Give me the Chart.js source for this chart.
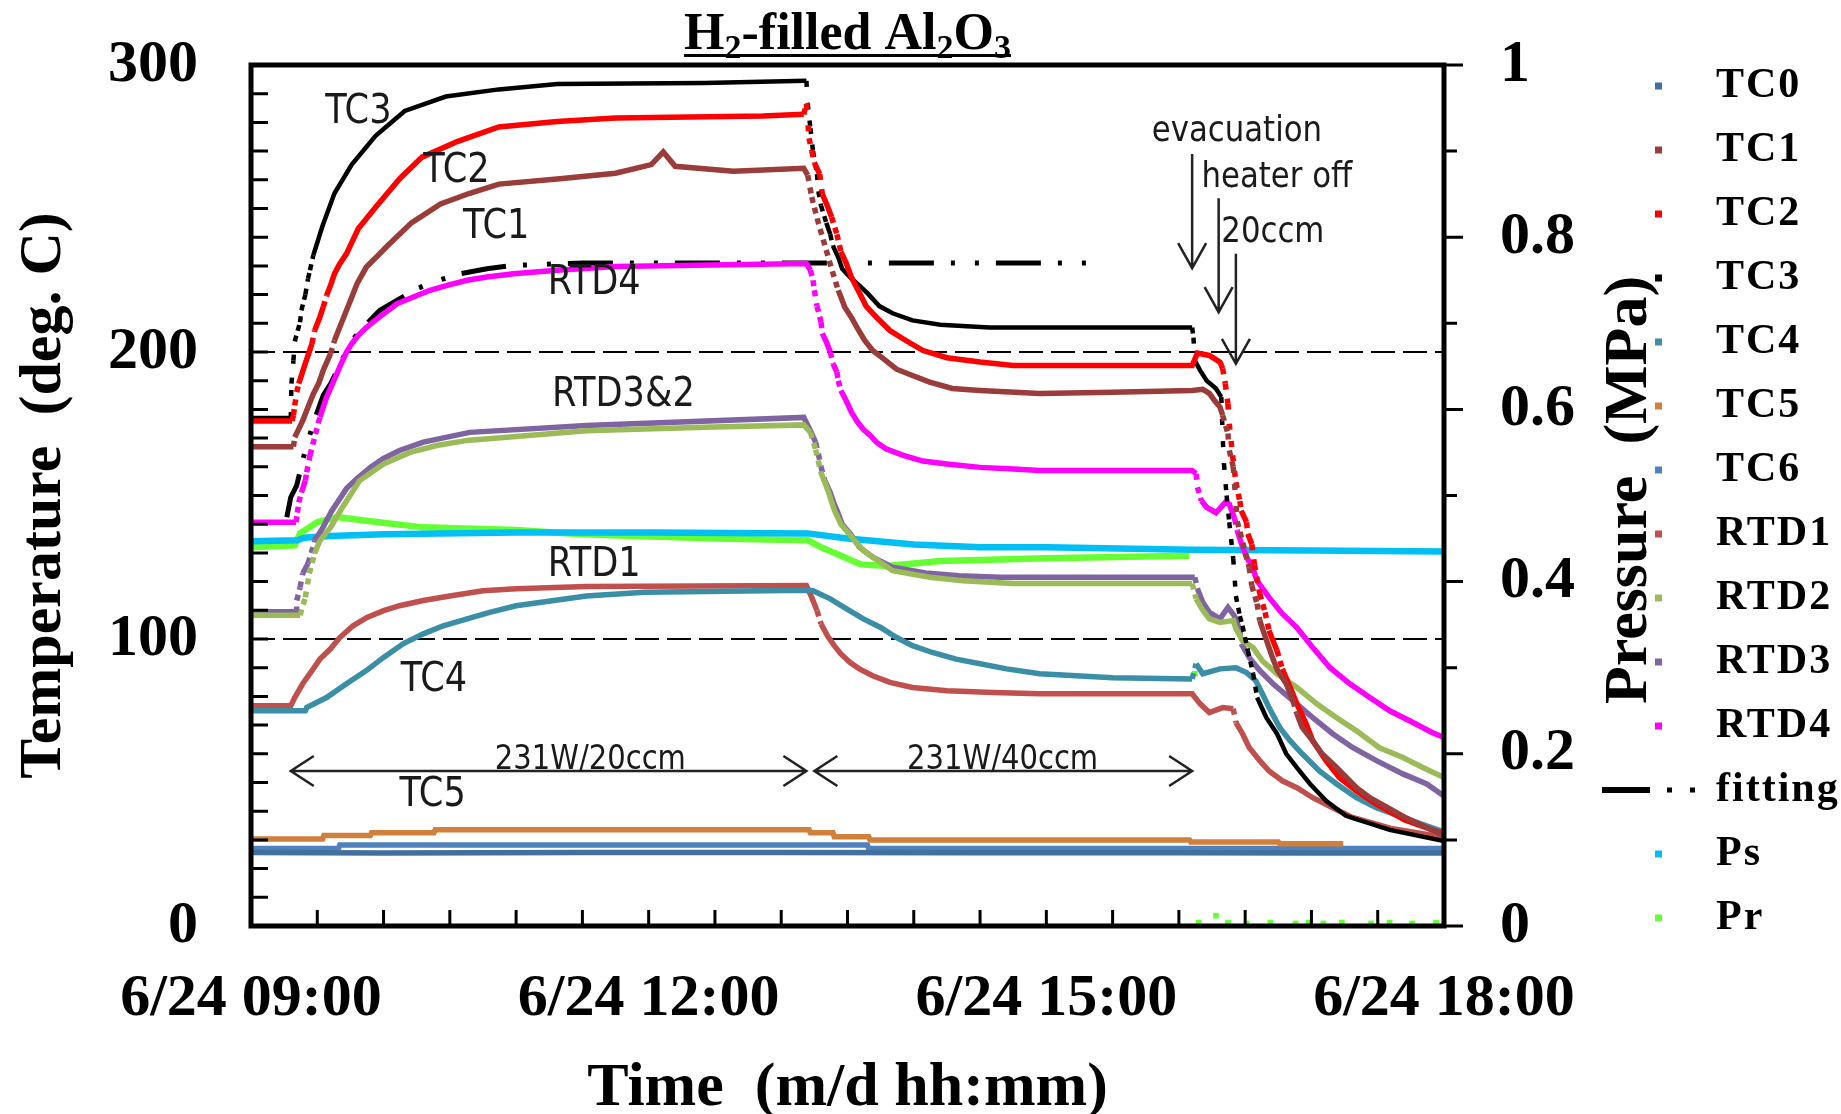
<!DOCTYPE html>
<html>
<head>
<meta charset="utf-8">
<title>H2-filled Al2O3</title>
<script src="https://cdn.jsdelivr.net/npm/chart.js@4.4.1/dist/chart.umd.min.js"></script>
<style>
  html, body { margin: 0; padding: 0; background: #fff; }
  #wrap { width: 1841px; height: 1114px; }
</style>
</head>
<body>
<div id="wrap"><canvas id="heatChart" width="1841" height="1114"></canvas></div>
<script>
// time in hours of 6/24, temperatures in deg C, pressures in MPa
const TC0 = [[9.0, 25.6], [10.0, 25.4], [11.5, 25.6], [13.0, 25.6], [14.5, 25.5], [16.0, 25.5], [17.0, 25.4], [18.0, 25.4]];
const TC1 = [[9.0, 167], [9.32, 167], [9.33, 170.3], [9.355, 172.7], [9.39, 176.1], [9.42, 179.6], [9.47, 185.4], [9.51, 189],
  [9.545, 193.6], [9.60, 199.4], [9.63, 204], [9.67, 208.7], [9.71, 213.3], [9.76, 219.1], [9.80, 223.8], [9.87, 229.6],
  [9.97, 234.2], [10.03, 237], [10.21, 245], [10.43, 251.6], [10.65, 255.3], [10.87, 258.5], [11.31, 260.3], [11.75, 262.3],
  [12.02, 265.3], [12.11, 269.7], [12.20, 264.7], [12.64, 263], [13.17, 264], [13.20, 261.6], [13.23, 254], [13.28, 245],
  [13.33, 237], [13.38, 229], [13.43, 221.5], [13.48, 215.6], [13.53, 212], [13.57, 208.7], [13.63, 204], [13.69, 200.5],
  [13.77, 197.7], [13.87, 194], [13.99, 191.8], [14.12, 189.5], [14.29, 187.3], [14.50, 186.6], [14.95, 185.5], [15.5, 186],
  [16.10, 186.6], [16.18, 187], [16.23, 185.6], [16.27, 183], [16.31, 180.8], [16.33, 178], [16.37, 171.6], [16.38, 165.7],
  [16.41, 160], [16.42, 154], [16.44, 141], [16.53, 125], [16.55, 118.6], [16.59, 112.3], [16.61, 106.4], [16.68, 97],
  [16.71, 93], [16.745, 89], [16.81, 84.4], [16.86, 78.5], [16.89, 74], [16.93, 69.2], [17.01, 64.5], [17.08, 60],
  [17.19, 55.2], [17.34, 48.2], [17.44, 44.7], [17.7, 38], [18.0, 31.5]];
const TC2 = [[9.0, 176], [9.31, 176], [9.32, 178], [9.33, 181.4], [9.345, 186], [9.36, 189], [9.41, 196], [9.46, 202.9],
  [9.48, 207.5], [9.52, 212.2], [9.545, 215.7], [9.57, 219.7], [9.60, 223.2], [9.63, 227.3], [9.67, 230.8], [9.72, 234.2],
  [9.81, 243], [9.94, 250.4], [10.12, 260.3], [10.29, 267.9], [10.56, 273.4], [10.87, 278.4], [11.31, 280.3], [11.75, 281.5],
  [12.86, 282.2], [13.17, 282.8], [13.19, 286.5], [13.21, 274.5], [13.23, 270], [13.25, 266], [13.29, 262], [13.31, 255],
  [13.34, 251.8], [13.38, 247], [13.42, 241], [13.45, 235], [13.49, 231], [13.53, 226], [13.58, 221.5], [13.64, 216],
  [13.72, 212], [13.82, 207.5], [13.94, 204], [14.07, 200.5], [14.25, 198], [14.50, 196.5], [14.75, 195.3], [16.10, 195.3],
  [16.14, 199.6], [16.23, 198.8], [16.31, 196.5], [16.33, 194.3], [16.35, 189], [16.37, 182], [16.38, 175], [16.405, 164],
  [16.43, 154.6], [16.46, 148], [16.47, 144.7], [16.51, 140.7], [16.52, 136.7], [16.55, 133], [16.57, 126], [16.61, 115.8],
  [16.65, 109.3], [16.68, 103], [16.71, 99.4], [16.74, 96], [16.78, 89.6], [16.84, 83.1], [16.89, 77.4], [16.96, 70.4],
  [17.01, 64.5], [17.11, 57.6], [17.21, 51.7], [17.34, 47], [17.49, 42.5], [17.7, 37], [18.0, 32]];
const TC3 = [[9.0, 177], [9.30, 177], [9.305, 189], [9.32, 197], [9.33, 203.7], [9.37, 210.4], [9.38, 214.5], [9.41, 220],
  [9.43, 225.5], [9.445, 228.5], [9.47, 233.7], [9.54, 244], [9.63, 255.3], [9.76, 265.3], [9.94, 275.3], [10.16, 284],
  [10.47, 289], [10.87, 291.5], [11.31, 293.4], [12.42, 293.7], [13.19, 294.5], [13.20, 286.6], [13.22, 278], [13.24, 270],
  [13.27, 262], [13.28, 256], [13.30, 251], [13.34, 245], [13.37, 241], [13.39, 237], [13.43, 233], [13.46, 229],
  [13.52, 226], [13.57, 224], [13.65, 220.5], [13.74, 216], [13.84, 213.5], [13.99, 211], [14.20, 209.5], [14.57, 208.5],
  [16.10, 208.5], [16.11, 205], [16.12, 197], [16.16, 193.6], [16.21, 190], [16.28, 187.3], [16.32, 184.3], [16.33, 171],
  [16.34, 161], [16.36, 150], [16.38, 140.7], [16.41, 128], [16.43, 115], [16.46, 108], [16.48, 104.6], [16.52, 96],
  [16.56, 87.9], [16.59, 79.6], [16.66, 72.6], [16.74, 67], [16.81, 60], [16.89, 55.2], [16.99, 49.5], [17.11, 43.6],
  [17.26, 38.4], [17.59, 33.5], [18.0, 29.6]];
const TC4 = [[9.0, 75], [9.41, 75], [9.42, 76.1], [9.57, 79.6], [9.72, 84.4], [9.87, 89], [10.0, 93.6], [10.15, 98.4],
  [10.30, 101.8], [10.45, 104.6], [10.63, 107], [10.80, 109.3], [11.0, 111.6], [11.53, 115], [11.97, 116.3], [13.19, 117],
  [13.24, 116.8], [13.37, 114], [13.49, 110.6], [13.62, 107], [13.75, 104], [13.87, 100.5], [13.99, 97.7], [14.14, 95.3],
  [14.32, 93], [14.50, 91.4], [14.70, 89.6], [14.95, 87.9], [15.5, 86.5], [16.10, 86.1], [16.13, 91.4], [16.18, 87.9],
  [16.31, 89.6], [16.43, 90], [16.51, 88.3], [16.58, 85.5], [16.63, 80.9], [16.68, 76.1], [16.76, 69.2], [16.84, 64.5],
  [16.93, 60], [17.06, 54], [17.19, 49.5], [17.34, 44.7], [17.49, 41.2], [17.69, 37.8], [18.0, 32.8]];
const TC5 = [[9.0, 30.3], [9.54, 30.3], [9.55, 31.5], [9.90, 31.5], [9.91, 32.5], [10.38, 32.5], [10.39, 33.5], [13.21, 33.5],
  [13.22, 32.5], [13.39, 32.5], [13.40, 31.1], [13.66, 31.1], [13.67, 30.0], [16.08, 30.0], [16.09, 29.3], [16.75, 29.3],
  [16.76, 28.7], [17.24, 28.7]];
const TC6 = [[9.0, 27.0], [9.66, 27.0], [9.67, 28.2], [13.65, 28.2], [13.66, 27.0], [18.0, 27.0]];
const RTD1 = [[9.0, 76.7], [9.30, 76.7], [9.33, 79.6], [9.39, 84.4], [9.46, 89], [9.52, 93], [9.60, 96.6], [9.67, 100.5],
  [9.77, 104.6], [9.875, 107.5], [10.0, 109.9], [10.12, 111.6], [10.30, 113.4], [10.5, 115], [10.75, 116.8], [11.0, 117.5],
  [11.53, 118.3], [13.19, 118.6], [13.23, 114.5], [13.27, 109.9], [13.30, 105.3], [13.35, 101], [13.40, 97.7], [13.45, 94.8],
  [13.52, 91.8], [13.59, 89.6], [13.69, 87.2], [13.82, 84.9], [13.99, 83.1], [14.25, 82], [14.60, 81.4], [14.95, 80.9],
  [16.10, 80.9], [16.16, 77.4], [16.23, 74.4], [16.33, 76.1], [16.41, 75.7], [16.43, 70.9], [16.48, 67], [16.53, 62.2],
  [16.61, 57.6], [16.68, 54], [16.78, 50.6], [16.89, 48.2], [17.01, 44.7], [17.16, 41.2], [17.31, 37.8], [17.6, 34], [18.0, 30.9]];
const RTD2 = [[9.0, 108.3], [9.37, 108.3], [9.41, 114.5], [9.44, 122.8], [9.48, 129.8], [9.52, 134.3], [9.60, 138.9],
  [9.69, 145.9], [9.82, 155.2], [10.0, 161], [10.20, 165], [10.40, 167.4], [10.63, 169.2], [11.53, 172.6], [12.42, 173.8],
  [13.17, 174.6], [13.22, 172], [13.26, 166], [13.30, 158], [13.35, 152], [13.40, 145], [13.45, 140], [13.49, 137.8],
  [13.62, 130.8], [13.84, 123.8], [14.12, 121.5], [14.37, 120.3], [14.75, 119.3], [16.10, 119.3], [16.13, 114], [16.18, 110],
  [16.23, 107], [16.31, 105.8], [16.41, 106.4], [16.43, 103.6], [16.48, 99.4], [16.56, 97], [16.63, 92.4], [16.74, 87.9],
  [16.89, 83.1], [17.04, 77.4], [17.19, 72.6], [17.34, 68], [17.51, 62.2], [17.69, 58.7], [17.84, 55.2], [18.0, 51.7]];
const RTD3 = [[9.0, 109.5], [9.34, 109.5], [9.345, 113.4], [9.37, 118], [9.39, 122.8], [9.43, 126.3], [9.46, 130.8],
  [9.48, 134.3], [9.53, 137.8], [9.57, 141.3], [9.61, 144.7], [9.66, 148.2], [9.72, 152.4], [9.80, 155.9], [9.90, 159.8],
  [10.0, 162.9], [10.12, 165.7], [10.30, 168.6], [10.65, 172], [11.53, 174.4], [13.17, 177.2], [13.22, 172.6], [13.26, 168.5],
  [13.28, 164.5], [13.30, 160], [13.33, 155], [13.37, 151], [13.40, 147], [13.43, 143.7], [13.46, 140], [13.52, 136.7],
  [13.59, 132], [13.69, 128.5], [13.84, 125], [14.09, 123], [14.34, 122], [14.65, 121.5], [16.12, 121.5], [16.14, 117.5],
  [16.18, 112.8], [16.23, 109.3], [16.31, 107], [16.37, 111], [16.42, 108], [16.46, 103], [16.47, 98.4], [16.53, 93.6],
  [16.61, 89], [16.71, 84.4], [16.86, 78.5], [17.01, 72.6], [17.16, 67], [17.31, 62.2], [17.49, 57.6], [17.69, 53],
  [17.87, 49.5], [18.0, 45.3]];
const RTD4 = [[9.0, 140.7], [9.34, 140.7], [9.35, 144], [9.36, 147.6], [9.38, 151], [9.41, 155.2], [9.42, 158.1], [9.445, 164],
  [9.48, 170.3], [9.52, 177.3], [9.57, 184.2], [9.62, 189.5], [9.68, 195.9], [9.72, 199.9], [9.76, 202.9], [9.81, 205.8],
  [9.86, 208.1], [9.92, 210.4], [10.0, 213.3], [10.10, 216.8], [10.22, 219.1], [10.35, 221.5], [10.48, 223.2], [10.63, 225],
  [10.78, 226.1], [10.98, 227.3], [11.31, 228.5], [11.75, 229.8], [13.19, 230.8], [13.22, 228.5], [13.24, 225], [13.25, 221.5],
  [13.27, 216], [13.30, 210.4], [13.31, 206.5], [13.34, 203.5], [13.37, 200], [13.39, 196], [13.42, 193], [13.43, 190],
  [13.45, 186.6], [13.49, 183], [13.53, 179], [13.57, 176], [13.62, 173], [13.67, 171], [13.72, 168.5], [13.79, 166.3],
  [13.92, 164], [14.07, 162], [14.25, 161], [14.50, 159.8], [14.72, 159.3], [14.95, 158.7], [16.10, 158.7], [16.13, 157.6],
  [16.14, 152.9], [16.17, 148.2], [16.21, 145.9], [16.28, 144], [16.35, 147.6], [16.38, 147], [16.42, 142], [16.44, 137.8],
  [16.47, 133.5], [16.51, 128.5], [16.55, 125.6], [16.59, 120.3], [16.68, 114.5], [16.78, 108.8], [16.89, 104], [17.01, 97],
  [17.14, 90], [17.29, 84.4], [17.44, 79.6], [17.59, 75], [17.74, 71.5], [17.91, 67.4], [18.0, 65.7]];
const FITTING = [[9.27, 142.4], [9.30, 149.4], [9.345, 153.5], [9.39, 162.2], [9.43, 169.2], [9.495, 178.5], [9.545, 184.9],
  [9.60, 188.9], [9.76, 204], [9.885, 210.4], [9.97, 214.5], [10.10, 218], [10.25, 222], [10.375, 224.4], [10.58, 227.3],
  [10.78, 229], [10.98, 230.2], [11.5, 231], [15.37, 231]];
const PS = [[9.0, 0.447], [9.35, 0.448], [9.40, 0.451], [9.6, 0.453], [10.0, 0.455], [11.0, 0.457], [12.0, 0.457],
  [13.2, 0.456], [13.5, 0.450], [14.0, 0.443], [14.5, 0.440], [15.0, 0.440], [16.1, 0.437], [17.0, 0.436], [18.0, 0.435]];
const PR = [[9.0, 0.440], [9.33, 0.442], [9.37, 0.456], [9.5, 0.469], [9.65, 0.475], [9.9, 0.470], [10.3, 0.463],
  [11.0, 0.460], [11.5, 0.455], [12.5, 0.450], [13.2, 0.448], [13.3, 0.440], [13.45, 0.430], [13.6, 0.420], [13.8, 0.418],
  [14.2, 0.424], [15.0, 0.427], [16.08, 0.430], [16.12, 0.293], [16.15, 0.004], [16.28, 0.012], [16.37, 0.004],
  [16.51, 0.003], [16.69, 0.004], [16.88, 0.003], [16.98, 0.004], [17.09, 0.003], [17.23, 0.004], [17.45, 0.003],
  [17.59, 0.004], [17.76, 0.003], [17.94, 0.004]];

const seriesNames = ["TC0", "TC1", "TC2", "TC3", "TC4", "TC5", "TC6", "RTD1", "RTD2", "RTD3", "RTD4", "fitting", "Ps", "Pr"];
const seriesData = [TC0, TC1, TC2, TC3, TC4, TC5, TC6, RTD1, RTD2, RTD3, RTD4, FITTING, PS, PR];
const seriesColors = ["#41709f", "#9a3d3a", "#ff0000", "#000000", "#3a8ea5", "#d0803a", "#4f81bd",
  "#c0504d", "#9bbb59", "#8064a2", "#ff00ff", "#000000", "#00bff3", "#66ff33"];

const timeTicks = [9, 12, 15, 18];
const timeLabels = ["6/24 09:00", "6/24 12:00", "6/24 15:00", "6/24 18:00"];
const evacuationTime = 16.09;

// labels written on the plot: [text, hour, deg C]
const traceLabels = [["TC3", 9.81, 283.5], ["TC2", 10.55, 263], ["TC1", 10.85, 243.4], ["RTD4", 11.59, 223.8],
  ["RTD3&2", 11.81, 184.7], ["RTD1", 11.59, 125.5], ["TC4", 10.38, 85.4], ["TC5", 10.37, 45.3]];
const eventLabels = [["evacuation", 15.795, 276.6], ["heater off", 16.17, 260.5], ["20ccm", 16.32, 241.4]];
const eventArrows = [[16.10, 269, 229.2], [16.30, 253.6, 213.9], [16.43, 234.2, 195.9]];
const powerSpans = [[9.30, 13.19, "231W/20ccm", 11.56], [13.25, 16.10, "231W/40ccm", 14.67]];
const powerLevel = 54;

const serif = "'Liberation Serif', 'Times New Roman', serif";
const sans = "'DejaVu Sans', Verdana, sans-serif";

function dottedWhenSteep(c) {
  const dx = Math.abs(c.p1.x - c.p0.x), dy = Math.abs(c.p1.y - c.p0.y);
  if (dy > 3.2 * dx) {
    const gap = Math.min(16, Math.max(5, dy / Math.max(dx, 0.5) * 1.2));
    return [6, gap];
  }
  return undefined;
}

function squeezedText(ctx, text, px, py, size, align) {
  ctx.save();
  ctx.translate(px, py);
  ctx.scale(0.88, 1);
  ctx.font = size + "px " + sans;
  ctx.textAlign = align;
  ctx.fillText(text, 0, 0);
  ctx.restore();
}

// fixed axis sizes so the plot box lands where the original one is
function fixSize(size) {
  return (s) => {
    if (s.isHorizontal()) s.height = size; else s.width = size;
    s.paddingTop = 0; s.paddingBottom = 0; s.paddingLeft = 0; s.paddingRight = 0;
  };
}

const decorPlugin = {
  id: "decor",
  afterDatasetsDraw(chart) {
    const { ctx, chartArea: a, scales: { x, y, y2 } } = chart;
    ctx.save();
    ctx.strokeStyle = "#000";
    ctx.lineWidth = 3;
    ctx.beginPath();
    for (let t = 10; t < 300; t += 10) {
      const py = y.getPixelForValue(t);
      ctx.moveTo(a.left, py); ctx.lineTo(a.left + 17, py);
    }
    for (let h = 9.5; h < 18; h += 0.5) {
      const px = x.getPixelForValue(h);
      ctx.moveTo(px, a.bottom); ctx.lineTo(px, a.bottom - 16);
    }
    for (let i = 0; i <= 10; i++) {
      const py = y2.getPixelForValue(i / 10);
      ctx.moveTo(a.right, py); ctx.lineTo(a.right + (i % 2 ? 13 : 19), py);
    }
    ctx.stroke();
    ctx.lineWidth = 5;
    ctx.strokeRect(a.left, a.top, a.right - a.left, a.bottom - a.top);

    // labels on the traces
    ctx.fillStyle = "#1a1a1a";
    ctx.textBaseline = "middle";
    traceLabels.forEach(([t, h, v]) => squeezedText(ctx, t, x.getPixelForValue(h), y.getPixelForValue(v), 40, "center"));
    eventLabels.forEach(([t, h, v]) => squeezedText(ctx, t, x.getPixelForValue(h), y.getPixelForValue(v), 35, "left"));

    // vertical event arrows
    ctx.strokeStyle = "#222";
    ctx.lineWidth = 2.5;
    eventArrows.forEach(([h, from, to]) => {
      const px = x.getPixelForValue(h), top = y.getPixelForValue(from), tip = y.getPixelForValue(to);
      ctx.beginPath();
      ctx.moveTo(px, top); ctx.lineTo(px, tip);
      ctx.moveTo(px - 14, tip - 25); ctx.lineTo(px, tip); ctx.lineTo(px + 14, tip - 25);
      ctx.stroke();
    });

    // heater power spans
    const py = y.getPixelForValue(powerLevel);
    ctx.textBaseline = "alphabetic";
    powerSpans.forEach(([h0, h1, text, hText]) => {
      const p0 = x.getPixelForValue(h0), p1 = x.getPixelForValue(h1);
      ctx.beginPath();
      ctx.moveTo(p0, py); ctx.lineTo(p1, py);
      ctx.moveTo(p0 + 23, py - 15); ctx.lineTo(p0, py); ctx.lineTo(p0 + 23, py + 15);
      ctx.moveTo(p1 - 23, py - 15); ctx.lineTo(p1, py); ctx.lineTo(p1 - 23, py + 15);
      ctx.stroke();
      squeezedText(ctx, text, x.getPixelForValue(hText), py - 2, 33, "center");
    });
    ctx.restore();
  },
  afterDraw(chart) {
    const { ctx, chartArea: a } = chart;
    ctx.save();
    ctx.fillStyle = "#000";

    // title with subscripts, underlined
    const parts = [["H", 0], ["2", 1], ["-filled Al", 0], ["2", 1], ["O", 0], ["3", 1]];
    const big = "bold 52px " + serif, small = "bold 34px " + serif;
    let width = 0;
    parts.forEach(([s, sub]) => { ctx.font = sub ? small : big; width += ctx.measureText(s).width; });
    let tx = (a.left + a.right) / 2 - width / 2;
    const base = 49;
    ctx.textBaseline = "alphabetic";
    ctx.textAlign = "left";
    const startX = tx;
    parts.forEach(([s, sub]) => {
      ctx.font = sub ? small : big;
      ctx.fillText(s, tx, sub ? base + 9 : base);
      tx += ctx.measureText(s).width;
    });
    ctx.fillRect(startX, 54, tx - startX, 3);

    // right axis title, reading bottom to top
    ctx.save();
    ctx.translate(1630, 490);
    ctx.rotate(-Math.PI / 2);
    ctx.font = "bold 62px " + serif;
    ctx.textAlign = "center";
    ctx.textBaseline = "middle";
    ctx.fillText("Pressure  (MPa)", 0, 0);
    ctx.restore();

    // legend
    ctx.textBaseline = "middle";
    ctx.font = "bold 42px " + serif;
    ctx.letterSpacing = "2px";
    chart.data.datasets.forEach((ds, i) => {
      const rowY = 86 + i * 64;
      if (ds.label === "fitting") {
        ctx.fillStyle = "#000";
        ctx.fillRect(1602, rowY - 3, 48, 6);
        ctx.fillRect(1667, rowY - 2.5, 5, 5);
        ctx.fillRect(1690, rowY - 2.5, 5, 5);
      } else {
        ctx.fillStyle = ds.borderColor;
        ctx.fillRect(1655, rowY - 3.5, 7, 7);
      }
      ctx.fillStyle = "#000";
      ctx.fillText(ds.label, 1716, rowY);
    });
    ctx.restore();
  }
};

const datasets = seriesNames.map((name, i) => {
  const onPressure = name === "Ps" || name === "Pr";
  const ds = {
    label: name,
    data: seriesData[i].map(([h, v]) => ({ x: h, y: v })),
    yAxisID: onPressure ? "y2" : "y",
    borderColor: seriesColors[i],
    backgroundColor: seriesColors[i],
    borderWidth: onPressure ? 6.5 : (name === "TC3" ? 4.5 : 5.5),
    pointRadius: 0,
    tension: 0,
    borderCapStyle: "butt"
  };
  if (name === "fitting") {
    ds.borderDash = [45, 17, 4, 20, 4, 17];
    ds.borderWidth = 5;
  } else if (!onPressure) {
    ds.segment = { borderDash: dottedWhenSteep };
  }
  if (name === "Pr") {
    // after evacuation only scattered readings near zero remain
    ds.segment = { borderColor: c => (c.p1.parsed.x > evacuationTime ? "rgba(0,0,0,0)" : undefined) };
    ds.pointStyle = "rect";
    ds.pointBorderWidth = 0;
    ds.pointRadius = c => (c.raw && c.raw.x > evacuationTime ? 4 : 0);
  }
  return ds;
});

const ctx = document.getElementById("heatChart").getContext("2d");
new Chart(ctx, {
  type: "line",
  data: { datasets },
  options: {
    responsive: false,
    animation: false,
    devicePixelRatio: 1,
    layout: { padding: { top: 65, left: 0, right: 0, bottom: 0 } },
    plugins: { legend: { display: false }, tooltip: { enabled: false } },
    scales: {
      x: {
        type: "linear",
        min: 9,
        max: 18,
        afterFit: fixSize(188),
        afterBuildTicks: (s) => { s.ticks = timeTicks.map(v => ({ value: v })); },
        grid: { display: false, drawTicks: false },
        border: { display: false },
        ticks: {
          autoSkip: false,
          maxRotation: 0,
          padding: 37,
          color: "#000",
          font: { family: serif, size: 60, weight: "bold" },
          callback: (v) => timeLabels[timeTicks.indexOf(v)]
        },
        title: {
          display: true,
          text: "Time  (m/d hh:mm)",
          color: "#000",
          padding: { top: 0, bottom: 0 },
          font: { family: serif, size: 62, weight: "bold", lineHeight: 0.8 }
        }
      },
      y: {
        min: 0,
        max: 300,
        afterFit: fixSize(251),
        grid: {
          drawTicks: false,
          lineWidth: 2,
          color: (c) => (c.tick && (c.tick.value === 100 || c.tick.value === 200) ? "#000" : "rgba(0,0,0,0)")
        },
        border: { display: false, dash: [24, 8] },
        ticks: {
          stepSize: 100,
          padding: 53,
          color: "#000",
          font: { family: serif, size: 60, weight: "bold" }
        },
        title: {
          display: true,
          text: "Temperature  (deg. C)",
          color: "#000",
          padding: { top: 14, bottom: 0 },
          font: { family: serif, size: 60, weight: "bold", lineHeight: 1 }
        }
      },
      y2: {
        position: "right",
        min: 0,
        max: 1,
        afterFit: fixSize(397),
        grid: { display: false, drawTicks: false },
        border: { display: false },
        ticks: {
          stepSize: 0.2,
          padding: 56,
          color: "#000",
          font: { family: serif, size: 60, weight: "bold" },
          callback: (v) => String(Number(v.toFixed(1)))
        }
      }
    }
  },
  plugins: [decorPlugin]
});
</script>
</body>
</html>
